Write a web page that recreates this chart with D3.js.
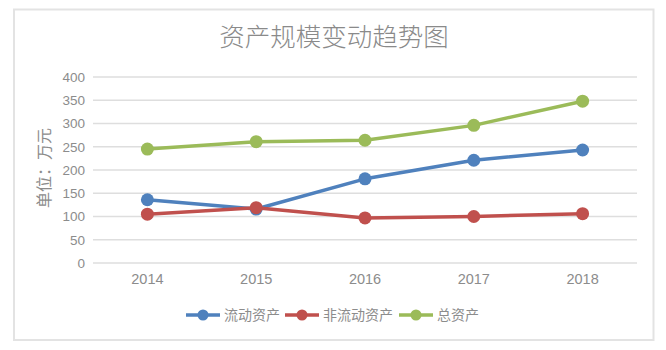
<!DOCTYPE html>
<html><head><meta charset="utf-8">
<script src="https://cdn.jsdelivr.net/npm/d3@7"></script>
<style>html,body{margin:0;padding:0;background:#fff;}</style>
</head><body>
<svg id="chart" width="666" height="350"></svg>
<script>
const years = ["2014","2015","2016","2017","2018"];
const seriesNames = ["流动资产","非流动资产","总资产"];
const currentAssets = [136, 116, 181, 221, 243];
const nonCurrentAssets = [105, 119, 97, 100, 106];
const totalAssets = [245, 261, 264, 296, 348];
const yTicks = [0,50,100,150,200,250,300,350,400];
const colors = ["#4f81bd","#c0504d","#9bbb59"];
const title = "资产规模变动趋势图";
const yTitle = "单位：万元";

const seriesVals = [currentAssets, nonCurrentAssets, totalAssets];
const font = "'Noto Sans CJK SC', 'Noto Sans', sans-serif";
const textColor = "#8c8c8c";

const svg = d3.select("#chart");
svg.append("rect").attr("x",14).attr("y",9.5).attr("width",639.5).attr("height",330.5)
  .attr("fill","#fff").attr("stroke","#e3e3e3").attr("stroke-width",2);

svg.append("text").attr("x",334).attr("y",46).attr("text-anchor","middle")
  .attr("font-family",font).attr("font-size",25.5).attr("font-weight",300)
  .attr("fill","#8a8a8a").text(title);

const x = d3.scaleBand().domain(years).range([93,637]);
const y = d3.scaleLinear().domain([0,400]).range([263,77]);

svg.append("g").selectAll("line").data(yTicks).join("line")
  .attr("x1",93).attr("x2",637).attr("y1",d=>y(d)).attr("y2",d=>y(d))
  .attr("stroke","#dedede").attr("stroke-width",1.5);

const yAxis = d3.axisLeft(y).tickValues(yTicks).tickSize(0).tickPadding(0);
const gy = svg.append("g").attr("transform","translate(85,0)").call(yAxis);
gy.select(".domain").remove();
gy.selectAll("text").attr("font-family","'Liberation Sans', Arial, sans-serif")
  .attr("font-size",13.5).attr("fill",textColor);

const xAxis = d3.axisBottom(x).tickSize(0).tickPadding(0);
const gx = svg.append("g").attr("transform","translate(0,274)").call(xAxis);
gx.select(".domain").remove();
gx.selectAll("text").attr("font-family","'Liberation Sans', Arial, sans-serif")
  .attr("font-size",14.5).attr("fill",textColor);

svg.append("text").attr("transform","translate(50,168) rotate(-90)")
  .attr("text-anchor","middle").attr("font-family",font).attr("font-size",16)
  .attr("fill",textColor).text(yTitle);

const line = d3.line().x((d,i)=>x(years[i])+x.bandwidth()/2).y(d=>y(d));
seriesVals.forEach((vals,si)=>{
  const g = svg.append("g");
  g.append("path").datum(vals).attr("d",line).attr("fill","none")
    .attr("stroke",colors[si]).attr("stroke-width",3.5).attr("stroke-linejoin","round");
  g.selectAll("circle").data(vals).join("circle")
    .attr("cx",(d,i)=>x(years[i])+x.bandwidth()/2).attr("cy",d=>y(d))
    .attr("r",6.5).attr("fill",colors[si]);
});

const legendX = [186, 285, 399];
seriesNames.forEach((name,si)=>{
  const lx = legendX[si], ly = 315;
  const g = svg.append("g");
  g.append("line").attr("x1",lx).attr("x2",lx+34).attr("y1",ly).attr("y2",ly)
    .attr("stroke",colors[si]).attr("stroke-width",3.5);
  g.append("circle").attr("cx",lx+17).attr("cy",ly).attr("r",5.5).attr("fill",colors[si]);
  g.append("text").attr("x",lx+38).attr("y",ly+5).attr("font-family",font)
    .attr("font-size",14).attr("fill",textColor).text(name);
});
</script>
</body></html>
